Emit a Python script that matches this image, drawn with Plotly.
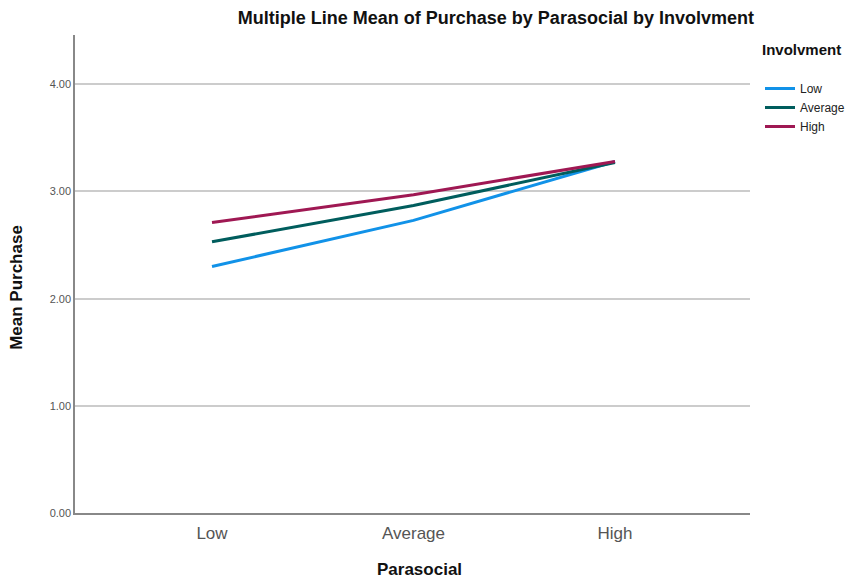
import plotly.graph_objects as go

categories = ["Low", "Average", "High"]
low_vals = [2.30, 2.73, 3.28]
avg_vals = [2.53, 2.87, 3.27]
high_vals = [2.71, 2.97, 3.28]
series_names = ["Low", "Average", "High"]
colors = ["#1192e8", "#005d5d", "#9f1853"]
y_ticks = [0, 1, 2, 3, 4]
y_tick_text = ["0.00", "1.00", "2.00", "3.00", "4.00"]

fig = go.Figure()
for name, vals, c in zip(series_names, [low_vals, avg_vals, high_vals], colors):
    fig.add_trace(go.Scatter(x=[0, 1, 2], y=vals, mode="lines", name=name,
                             line=dict(color=c, width=3)))

fig.update_layout(
    width=862, height=580,
    margin=dict(l=67, r=120, t=27, b=75, autoexpand=False),
    paper_bgcolor="white", plot_bgcolor="white",
    font=dict(family="Liberation Sans, Arial, sans-serif", color="#222"),
    title=dict(text="<b>Multiple Line Mean of Purchase by Parasocial by Involvment</b>",
               x=0.566, xanchor="center", y=0.983, yanchor="middle",
               font=dict(size=18, color="#111")),
    legend=dict(title=dict(text="<b>Involvment</b><br>", font=dict(size=15, color="#111")),
                x=1.0148, xanchor="left", y=1.0, yanchor="top",
                font=dict(size=12, color="#222"), itemwidth=30,
                tracegroupgap=0, bgcolor="rgba(0,0,0,0)"),
    showlegend=True,
    annotations=[
        dict(text="<b>Mean Purchase</b>", xref="paper", yref="paper", x=-0.086, y=0.473,
             xanchor="center", yanchor="middle", textangle=-90, showarrow=False,
             font=dict(size=17, color="#111")),
        dict(text="<b>Parasocial</b>", xref="paper", yref="paper", x=0.511, y=-0.119,
             xanchor="center", yanchor="middle", showarrow=False,
             font=dict(size=17, color="#111")),
    ],
)
fig.update_xaxes(
    range=[-0.68, 2.67], tickvals=[0, 1, 2], ticktext=categories, automargin=False,
    showgrid=False, zeroline=False, showline=True, linecolor="#888", linewidth=1.5,
    ticks="", tickfont=dict(size=17, color="#555"), ticklabelstandoff=4,
)
fig.update_yaxes(
    range=[0, 4.46], tickvals=y_ticks, ticktext=y_tick_text, automargin=False,
    showgrid=True, gridcolor="#cccccc", gridwidth=1.5, zeroline=False,
    showline=True, linecolor="#888", linewidth=1.5, ticks="",
    tickfont=dict(size=11, color="#555"),
)
fig.write_html("out.html")
